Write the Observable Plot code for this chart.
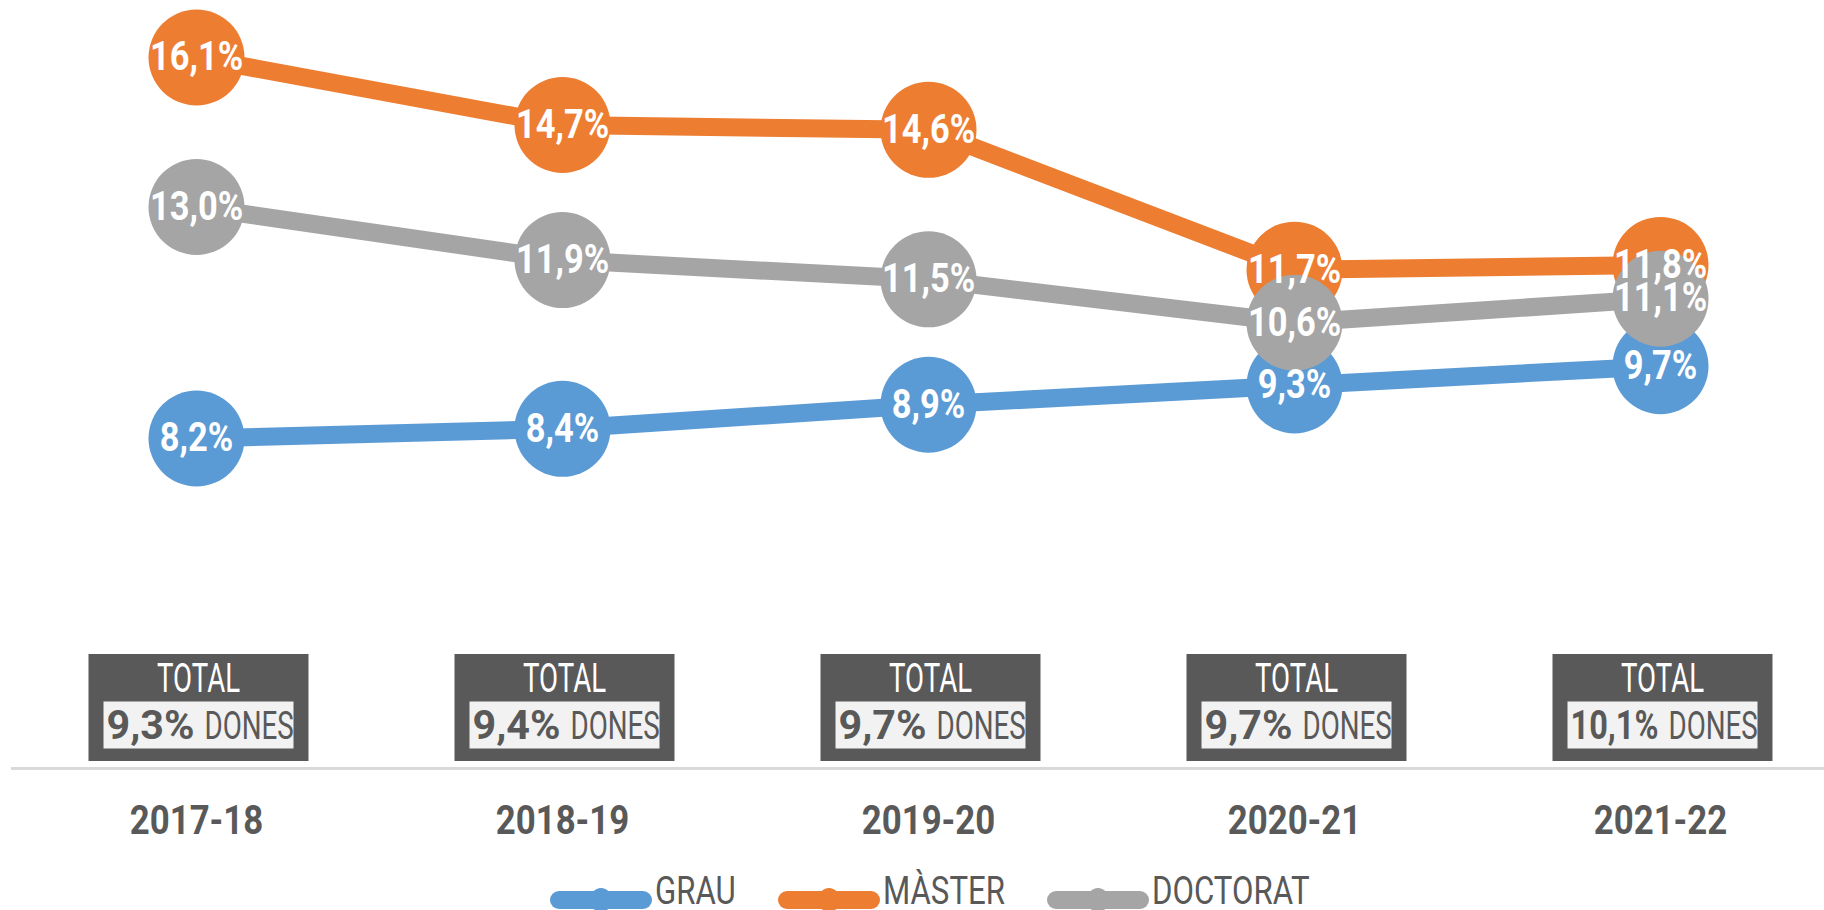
<!DOCTYPE html>
<html><head><meta charset="utf-8">
<script src="https://cdn.jsdelivr.net/npm/d3@7"></script>
<script src="https://cdn.jsdelivr.net/npm/@observablehq/plot@0.6"></script>
<style>
body{margin:0;background:#fff;}
#wrap{position:relative;width:1824px;height:910px;overflow:hidden;font-family:Roboto,"DejaVu Sans Condensed",sans-serif;}
#chart svg{display:block;}
#legend{position:absolute;left:550px;top:874px;height:52px;display:flex;align-items:center;}
.item{display:flex;align-items:center;margin-right:45px;}
.sw{position:relative;width:102px;height:24px;flex:none;}
.sw .bar{position:absolute;left:0;right:0;top:3px;height:18px;border-radius:9px;}
.sw .dot{position:absolute;left:40px;top:0;width:22px;height:24px;border-radius:50%;}
.lab{font-size:39px;line-height:39px;color:#595959;margin-left:3px;position:relative;top:-9px;display:inline-block;transform:scaleX(0.8);transform-origin:left center;}
</style></head>
<body>
<div id="wrap"><div id="chart"></div><div id="legend"></div></div>
<script>
const years = ["2017-18", "2018-19", "2019-20", "2020-21", "2021-22"];
const grau = [8.2, 8.4, 8.9, 9.3, 9.7];
const master = [16.1, 14.7, 14.6, 11.7, 11.8];
const doctorat = [13.0, 11.9, 11.5, 10.6, 11.1];
const totals = [9.3, 9.4, 9.7, 9.7, 10.1];
const seriesNames = ["GRAU", "MÀSTER", "DOCTORAT"];
const seriesColors = ["#5B9BD5", "#ED7D31", "#A5A5A5"];
const totalWord = "TOTAL";
const donesWord = "DONES";

const seriesValues = [grau, master, doctorat];
const rows = seriesNames.flatMap((s, i) => years.map((y, j) => ({serie: s, year: y, value: seriesValues[i][j]})));
const totalRows = years.map((y, j) => ({year: y, total: totals[j]}));
const fmt = v => v.toFixed(1).replace(".", ",") + "%";
const rectSymbol = (w, h) => ({draw(ctx) {
  ctx.moveTo(-w / 2, -h / 2); ctx.lineTo(w / 2, -h / 2); ctx.lineTo(w / 2, h / 2); ctx.lineTo(-w / 2, h / 2); ctx.closePath();
}});
const dark = "#595959";

const seriesMarks = seriesNames.flatMap(s => {
  const d = rows.filter(r => r.serie === s);
  return [
    Plot.line(d, {x: "year", y: "value", stroke: "serie", strokeWidth: 18, strokeLinejoin: "round", strokeLinecap: "round"}),
    Plot.dot(d, {x: "year", y: "value", fill: "serie", r: 48})
  ];
});

const bottomText = {x: "year", frameAnchor: "bottom", lineAnchor: "middle"};

const chart = Plot.plot({
  width: 1824, height: 868,
  marginTop: 0, marginLeft: 12, marginRight: 0, marginBottom: 100,
  x: {type: "point", domain: years, range: [195, 1661], padding: 0, axis: null},
  y: {domain: [8.2, 16.1], range: [438, 57], axis: null},
  color: {domain: seriesNames, range: seriesColors},
  style: {fontFamily: "Roboto, 'DejaVu Sans Condensed', sans-serif", background: "white"},
  marks: [
    Plot.frame({anchor: "bottom", stroke: "#D9D9D9", strokeWidth: 3}),
    ...seriesMarks,
    Plot.text(rows, {x: "year", y: "value", text: d => fmt(d.value), fill: "white", fontSize: 40, fontWeight: "bold", className: "cond86"}),
    Plot.dot(totalRows, {x: "year", frameAnchor: "bottom", dy: -61, dx: 2, symbol: rectSymbol(220, 107), fill: dark, r: 10}),
    Plot.dot(totalRows, {x: "year", frameAnchor: "bottom", dy: -43.5, dx: 2, symbol: rectSymbol(190, 47), fill: "#F2F2F2", r: 10}),
    Plot.text(totalRows, {...bottomText, dy: -89, dx: 2, text: () => totalWord, fill: "white", fontSize: 40, className: "cond69"}),
    Plot.text(totalRows, {...bottomText, dy: -42, text: d => fmt(d.total), textAnchor: "end", dx: -2, fill: dark, fontSize: 40, fontWeight: "bold", className: "cond105"}),
    Plot.text(totalRows, {...bottomText, dy: -42, text: () => donesWord, textAnchor: "start", dx: 8, fill: dark, fontSize: 38, className: "cond73"}),
    Plot.text(years, {x: d => d, frameAnchor: "bottom", lineAnchor: "middle", dy: 53, text: d => d, fill: dark, fontSize: 40, fontWeight: "bold", className: "cond87"})
  ]
});
document.getElementById("chart").appendChild(chart);

// condense glyphs horizontally (the reference uses a condensed typeface)
[["cond86", 0.86, 100], ["cond69", 0.69, 200], ["cond105", 1.05, 88], ["cond73", 0.73, 200], ["cond87", 0.87, 200]].forEach(([cls, f, maxW]) => {
  chart.querySelectorAll(`g.${cls} text`).forEach(t => {
    const L = t.getComputedTextLength();
    t.setAttribute("textLength", Math.min(L * f, maxW));
    t.setAttribute("lengthAdjust", "spacingAndGlyphs");
  });
});

const legend = document.getElementById("legend");
seriesNames.forEach((s, i) => {
  const item = document.createElement("div");
  item.className = "item";
  item.innerHTML = `<div class="sw"><div class="bar" style="background:${seriesColors[i]}"></div><div class="dot" style="background:${seriesColors[i]}"></div></div><span class="lab">${s}</span>`;
  legend.appendChild(item);
  const lab = item.querySelector(".lab");
  const w = lab.getBoundingClientRect().width;
  item.style.marginRight = (42 - (lab.offsetWidth - w)) + "px";
});
</script>
</body></html>
